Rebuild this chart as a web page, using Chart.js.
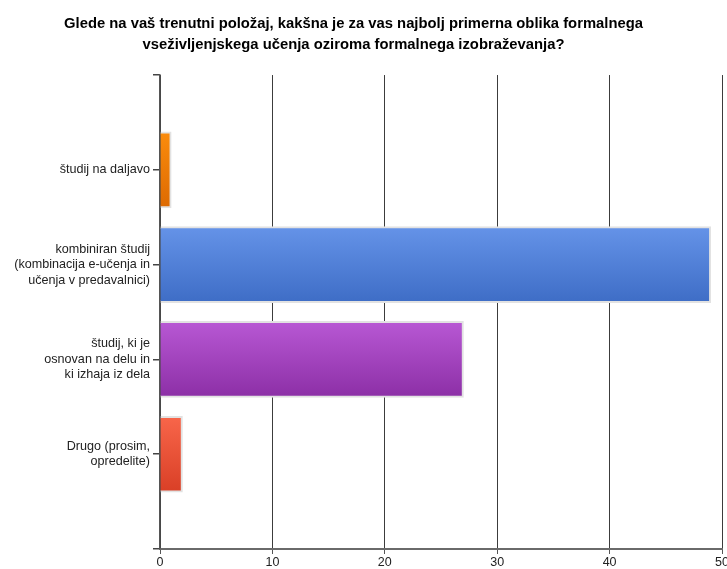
<!DOCTYPE html>
<html>
<head>
<meta charset="utf-8">
<title>Oblika formalnega učenja</title>
<script src="https://cdn.jsdelivr.net/npm/chart.js@4"></script>
<style>
  html, body { margin: 0; padding: 0; background: #fff; }
  canvas { display: block; }
</style>
</head>
<body>
<canvas id="chart" width="727" height="569"></canvas>
<script>
// answer categories (empty slots keep a free band above and below the bars)
const categories = [
  "",
  "študij na daljavo",
  ["kombiniran študij", "(kombinacija e-učenja in", "učenja v predavalnici)"],
  ["študij, ki je", "osnovan na delu in", "ki izhaja iz dela"],
  ["Drugo (prosim,", "opredelite)"],
  ""
];
const answers = [null, 1, 49, 27, 2, null];
const xTicks = [0, 10, 20, 30, 40, 50];

// top / bottom colours of each bar's vertical gradient
const topColors = [null, "#fb8c0c", "#6593e8", "#b858d4", "#f8664a", null];
const bottomColors = [null, "#dd6a02", "#3e6dc6", "#8c2fa6", "#d93f26", null];

const BAR_H = 76;
const FONT = "Liberation Sans, Arial, sans-serif";

function barGradient(ctx) {
  const chart = ctx.chart;
  const i = ctx.dataIndex;
  const yScale = chart.scales.y;
  if (!yScale || !topColors[i]) return "#888";
  const yc = yScale.getPixelForValue(i);
  const g = chart.ctx.createLinearGradient(0, yc - BAR_H / 2, 0, yc + BAR_H / 2);
  g.addColorStop(0, topColors[i]);
  g.addColorStop(1, bottomColors[i]);
  return g;
}

// title sits a bit left of the canvas centre
const titleShift = {
  id: "titleShift",
  afterLayout(chart) {
    const t = chart.titleBlock;
    if (t) {
      t.left -= 10;
      t.right -= 10;
    }
  },
};

const chartEl = document.getElementById("chart");

new Chart(chartEl, {
  type: "bar",
  plugins: [titleShift],
  data: {
    labels: categories,
    datasets: [
      {
        data: answers,
        backgroundColor: barGradient,
        borderColor: "#e2e2e2",
        borderWidth: 2,
        borderSkipped: "start",
        barThickness: BAR_H,
      },
    ],
  },
  options: {
    indexAxis: "y",
    responsive: false,
    animation: false,
    layout: { padding: 0 },
    plugins: {
      legend: { display: false },
      tooltip: { enabled: false },
      title: {
        display: true,
        text: [
          "Glede na vaš trenutni položaj, kakšna je za vas najbolj primerna oblika formalnega",
          "vseživljenjskega učenja oziroma formalnega izobraževanja?",
        ],
        color: "#000",
        font: { family: FONT, size: 14.8, weight: "bold", lineHeight: 1.42 },
        padding: { top: 13, bottom: 20 },
      },
    },
    scales: {
      x: {
        type: "linear",
        min: 0,
        max: 50,
        afterBuildTicks: (scale) => {
          scale.ticks = xTicks.map((v) => ({ value: v }));
        },
        afterFit: (scale) => {
          scale.height = 20;
          scale.paddingRight = 5;
        },
        grid: {
          color: "#3c3c3c",
          lineWidth: 1,
          tickLength: 5,
          tickColor: "#555",
        },
        border: { color: "#6a6a6a", width: 2 },
        ticks: {
          color: "#222",
          padding: 1,
          font: { family: FONT, size: 12.5 },
        },
      },
      y: {
        type: "category",
        offset: false,
        afterFit: (scale) => {
          scale.width = 160;
        },
        grid: {
          offset: false,
          drawOnChartArea: false,
          tickLength: 7,
          color: "#444",
          lineWidth: 1.5,
        },
        border: { color: "#555", width: 1.5 },
        ticks: {
          color: "#222",
          padding: 3,
          autoSkip: false,
          font: { family: FONT, size: 12.6, lineHeight: 1.23 },
        },
      },
    },
  },
});
</script>
</body>
</html>
